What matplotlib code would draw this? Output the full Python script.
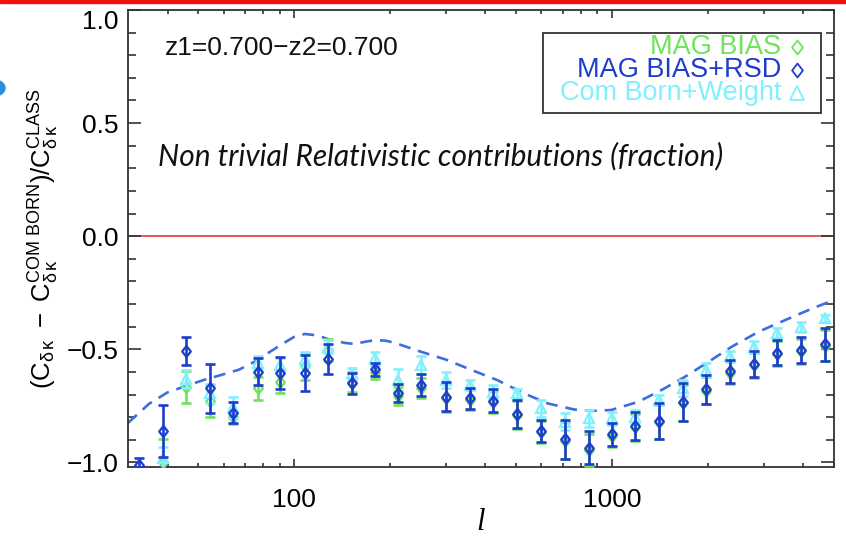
import matplotlib
matplotlib.use("Agg")
import matplotlib.pyplot as plt
from matplotlib.path import Path
from matplotlib.ticker import FixedLocator, FuncFormatter, NullFormatter
from matplotlib.patches import Rectangle, Circle

plt.rcParams['font.family'] = ['Liberation Sans', 'DejaVu Sans']
plt.rcParams['mathtext.fontset'] = 'custom'
plt.rcParams['mathtext.rm'] = 'Liberation Sans'
plt.rcParams['mathtext.it'] = 'Liberation Sans:italic'
plt.rcParams['mathtext.bf'] = 'Liberation Sans:bold'

# multipole bins
ell = [32.4, 38.6, 45.6, 54.3, 64.4, 76.7, 90.4, 108, 128, 151.7,
       179.8, 213, 251, 300.6, 357, 424, 504, 598, 710, 845,
       1003, 1186, 1406, 1670, 1982, 2360, 2800, 3320, 3940, 4690]

# MAG BIAS+RSD
mag_rsd = [-1.01, -0.861, -0.507, -0.673, -0.780, -0.599, -0.603, -0.606, -0.543, -0.650,
           -0.588, -0.692, -0.658, -0.709, -0.717, -0.727, -0.786, -0.861, -0.898, -0.935,
           -0.876, -0.839, -0.817, -0.732, -0.677, -0.597, -0.565, -0.515, -0.503, -0.478]
mag_rsd_err = [0.03, 0.113, 0.063, 0.109, 0.046, 0.059, 0.071, 0.080, 0.068, 0.046,
               0.028, 0.041, 0.048, 0.063, 0.045, 0.052, 0.063, 0.050, 0.085, 0.073,
               0.052, 0.061, 0.078, 0.083, 0.063, 0.051, 0.057, 0.055, 0.059, 0.073]

# MAG BIAS
mag_bias = [-1.06, -0.997, -0.665, -0.727, -0.801, -0.673, -0.643, -0.575, -0.503, -0.645,
            -0.600, -0.705, -0.672, -0.715, -0.722, -0.733, -0.790, -0.866, -0.903, -0.945,
            -0.882, -0.845, -0.822, -0.738, -0.683, -0.603, -0.570, -0.520, -0.508, -0.483]
mag_bias_err = [0.03, 0.10, 0.07, 0.07, 0.03, 0.05, 0.05, 0.06, 0.05, 0.045,
                0.03, 0.04, 0.045, 0.06, 0.045, 0.05, 0.06, 0.05, 0.08, 0.07,
                0.05, 0.06, 0.075, 0.08, 0.06, 0.05, 0.055, 0.055, 0.055, 0.07]

# Com Born+Weight
born_weight = [-1.06, -0.98, -0.63, -0.695, -0.757, -0.56, -0.569, -0.544, -0.488, -0.606,
               -0.540, -0.636, -0.569, -0.636, -0.658, -0.687, -0.695, -0.761, -0.820, -0.805,
               -0.805, -0.798, -0.724, -0.672, -0.592, -0.530, -0.488, -0.429, -0.400, -0.363]
born_weight_err = [0.03, 0.05, 0.04, 0.04, 0.047, 0.03, 0.03, 0.034, 0.03, 0.025,
                   0.03, 0.048, 0.039, 0.037, 0.022, 0.03, 0.02, 0.037, 0.037, 0.037,
                   0.029, 0.028, 0.022, 0.036, 0.03, 0.024, 0.026, 0.022, 0.022, 0.015]

# theory curve
theory_ell = [30, 35, 40, 45, 52, 60, 67, 75, 82, 92, 100, 108, 118, 130, 145, 155, 168,
              180, 195, 210, 250, 300, 360, 436, 530, 628, 762, 870, 996, 1210, 1432,
              1700, 2013, 2385, 2897, 3518, 4275, 5067]
theory = [-0.825, -0.74, -0.69, -0.665, -0.635, -0.61, -0.59, -0.555, -0.52, -0.475, -0.445,
          -0.432, -0.438, -0.458, -0.472, -0.476, -0.466, -0.459, -0.462, -0.474, -0.51,
          -0.545, -0.59, -0.636, -0.695, -0.739, -0.766, -0.772, -0.768, -0.732, -0.680,
          -0.621, -0.555, -0.488, -0.422, -0.370, -0.319, -0.279]

y_ticks = [-1.0, -0.5, 0.0, 0.5, 1.0]
x_ticks = [100, 1000]
x_minor = [40, 50, 60, 70, 80, 90, 200, 300, 400, 500, 600, 700, 800, 900,
           2000, 3000, 4000, 5000]

legend_labels = ["MAG BIAS", "MAG BIAS+RSD", "Com Born+Weight"]

GREEN = '#6fe35c'
BLUE = '#1f3dcc'
CYAN = '#80f0ff'
DASH = '#3b6ee0'

diamond = Path([(0, 1), (0.78, 0), (0, -1), (-0.78, 0), (0, 1)],
               [Path.MOVETO, Path.LINETO, Path.LINETO, Path.LINETO, Path.CLOSEPOLY])

W, H = 846, 538
fig = plt.figure(figsize=(W / 100, H / 100), dpi=100)
ax = fig.add_axes([128 / W, 71 / H, 706 / W, 457 / H])

ax.set_xscale('log')
ax.set_xlim(30, 5000)
ax.set_ylim(-1.02, 1.0)

ax.axhline(0.0, color='#e53a3a', lw=1.2, zorder=1)
ax.plot(theory_ell, theory, color=DASH, lw=1.9, ls=(0, (4.5, 3)), zorder=2)


def series(y, err, color, marker, ms, z):
    ax.errorbar(ell, y, yerr=err, fmt='none', ecolor=color, elinewidth=1.9,
                capsize=3.8, capthick=1.9, zorder=z)
    ax.plot(ell, y, ls='none', marker=marker, ms=ms, mfc='none', mec=color,
            mew=1.6, zorder=z + 0.1)


series(mag_bias, mag_bias_err, GREEN, diamond, 8, 3)
series(born_weight, born_weight_err, CYAN, '^', 7.5, 4)
series(mag_rsd, mag_rsd_err, BLUE, diamond, 8, 5)

# axes styling
for s in ax.spines.values():
    s.set_linewidth(1.3)
    s.set_color('#333333')
ax.xaxis.set_major_locator(FixedLocator(x_ticks))
ax.xaxis.set_minor_locator(FixedLocator(x_minor))
ax.xaxis.set_major_formatter(FuncFormatter(lambda v, p: f"{v:.0f}"))
ax.xaxis.set_minor_formatter(NullFormatter())
ax.yaxis.set_major_locator(FixedLocator(y_ticks))
ax.yaxis.set_minor_locator(FixedLocator([v / 10 for v in range(-10, 11)]))
ax.yaxis.set_major_formatter(FuncFormatter(lambda v, p: f"{v:.1f}".replace('-', '\u2212')))

ax.tick_params(which='both', direction='in', top=True, right=True,
               color='#333333', width=1.2, labelsize=19)
ax.tick_params(axis='x', which='major', length=6, pad=15)
ax.tick_params(axis='x', which='minor', length=3)
ax.tick_params(axis='y', which='major', length=9.5, pad=7)
ax.tick_params(axis='y', which='minor', length=5.5)
ax.yaxis.get_major_ticks()[-1].label1.set_va('top')

ax.set_xlabel('l', fontsize=22, family='Liberation Serif', style='italic', labelpad=-3)
ax.set_ylabel(r'$(\mathrm{C}_{\mathrm{\delta\,\kappa}}\ -\ '
              r'\mathrm{C}_{\mathrm{\delta\,\kappa}}^{\mathrm{COM\ BORN}})/'
              r'\mathrm{C}_{\mathrm{\delta\,\kappa}}^{\mathrm{CLASS}}$',
              fontsize=18.5, labelpad=4)

ax.text((165 - 128) / 706, (467 - 48) / 457, 'z1=0.700\u2212z2=0.700',
        transform=ax.transAxes, fontsize=19, ha='left', va='center', color='#111111')
ax.text((158 - 128) / 706, (467 - 156) / 457,
        'Non trivial Relativistic contributions (fraction)',
        transform=ax.transAxes, fontsize=21.5, family='Lato', style='italic',
        ha='left', va='center', color='#111111')

# legend box
bx0, bx1 = (543 - 128) / 706, (821 - 128) / 706
by0, by1 = (467 - 113) / 457, (467 - 33) / 457
ax.add_patch(Rectangle((bx0, by0), bx1 - bx0, by1 - by0, transform=ax.transAxes,
                       fill=False, ec='#333333', lw=1.3, zorder=6))
leg_y = [(467 - 46.7) / 457, (467 - 70) / 457, (467 - 93.3) / 457]
leg_colors = [GREEN, BLUE, CYAN]
leg_markers = [diamond, diamond, '^']
for lab, yy, c, m in zip(legend_labels, leg_y, leg_colors, leg_markers):
    ax.text((781 - 128) / 706, yy, lab, transform=ax.transAxes, fontsize=19.5,
            color=c, ha='right', va='center', zorder=7)
    ax.plot([(797 - 128) / 706], [yy], transform=ax.transAxes, ls='none', marker=m,
            ms=10, mfc='none', mec=c, mew=1.3, clip_on=False, zorder=7)

# slide decorations
fig.patches.append(Rectangle((0, 1 - 3 / H), 1, 3 / H, transform=fig.transFigure,
                             color='#f01010', zorder=10))
fig.patches.append(Circle((-9 / W, 1 - 88 / H), 14 / W, transform=fig.transFigure,
                          color='#2890d8', zorder=10))

fig.savefig('out.png', dpi=100)
